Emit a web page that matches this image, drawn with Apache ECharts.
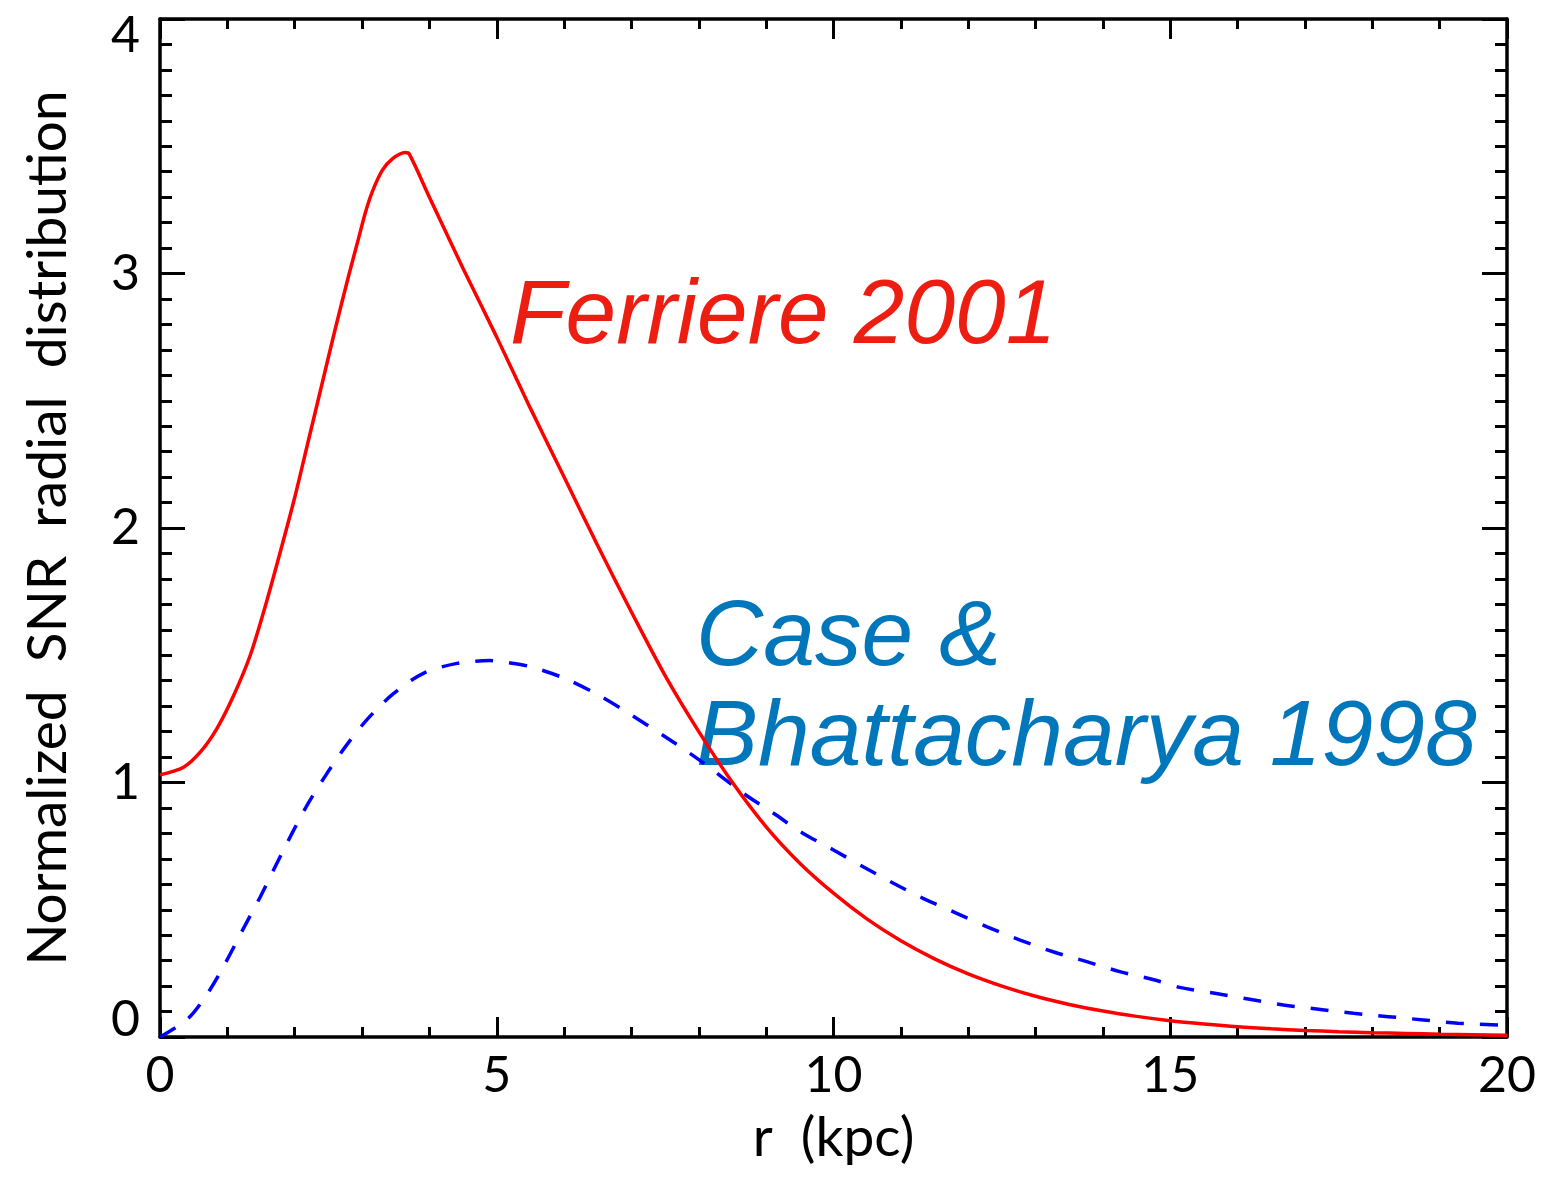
<!DOCTYPE html>
<html>
<head>
<meta charset="utf-8">
<script src="https://cdn.jsdelivr.net/npm/echarts@6/dist/echarts.min.js"></script>
<style>
  html, body { margin: 0; padding: 0; background: #fff; }
  #chart { width: 1543px; height: 1177px; }
</style>
</head>
<body>
<div id="chart"></div>
<script>
// Ferriere 2001 (solid red)
const ferriereR = [0, 0.35, 0.6, 0.84, 1.09, 1.34, 1.56, 1.8, 2.0, 2.2, 2.4, 2.6, 2.8, 2.95, 3.05, 3.15, 3.3, 3.45, 3.64, 3.7,
  4.0, 4.5, 5, 5.5, 6, 6.5, 7, 7.5, 8, 8.5, 9, 9.5, 10, 10.5, 11, 11.5, 12, 12.5, 13, 13.5, 14, 14.5, 15, 15.5, 16, 16.5,
  17, 17.5, 18, 18.5, 19, 19.5, 20]
const ferriereVal = [1.03, 1.06, 1.12, 1.21, 1.34, 1.5, 1.69, 1.92, 2.12, 2.34, 2.56, 2.78, 2.99, 3.14, 3.24, 3.32, 3.405, 3.45, 3.475, 3.47,
  3.30, 3.02, 2.75, 2.47, 2.20, 1.93, 1.67, 1.42, 1.20, 1.0, 0.826, 0.683, 0.565, 0.463, 0.378, 0.307, 0.248, 0.2, 0.16, 0.128, 0.102, 0.081, 0.064, 0.051, 0.04, 0.032,
  0.026, 0.021, 0.017, 0.014, 0.011, 0.009, 0.007]

// Case & Bhattacharya 1998 (dashed blue)
const caseR = [0, 0.42, 0.74, 0.99, 1.24, 1.49, 1.71, 1.96, 2.2, 2.48, 2.77, 3.09, 3.47, 3.91, 4.41, 4.9, 5.17, 5.5, 6, 6.5, 7, 7.5, 8,
  8.66, 9.11, 9.55, 10, 10.44, 10.89, 11.33, 11.83, 12.28, 12.77, 13.26, 13.76, 14.25, 14.77, 15.14, 15.66, 16.18, 16.68, 17.2, 17.72, 18.24, 18.76, 19.27, 20]
const caseVal = [0, 0.073, 0.185, 0.3, 0.427, 0.551, 0.669, 0.8, 0.918, 1.036, 1.147, 1.252, 1.35, 1.429, 1.468, 1.479, 1.471, 1.455, 1.41, 1.345, 1.265, 1.18, 1.09,
  0.958, 0.879, 0.8, 0.735, 0.669, 0.604, 0.545, 0.486, 0.433, 0.381, 0.335, 0.296, 0.257, 0.224, 0.195, 0.172, 0.148, 0.126, 0.109, 0.093, 0.08, 0.067, 0.054, 0.046]

const axisFont = 'Lato'

const chart = echarts.init(document.getElementById('chart'))

const frameAxis = {
	axisLine: { show: true, onZero: false, lineStyle: { color: '#000', width: 3.5 } },
	splitLine: { show: false },
}

const option = {
	backgroundColor: '#fff',
	animation: false,
	grid: { left: 160, right: 36, top: 19, bottom: 140, containLabel: false, outerBoundsMode: 'none' },
	xAxis: [
		{
			...frameAxis,
			type: 'value',
			position: 'bottom',
			min: 0,
			max: 20,
			interval: 5,
			axisTick: { show: true, inside: true, length: 20, lineStyle: { color: '#000', width: 3 } },
			minorTick: { show: true, splitNumber: 5, length: 10, lineStyle: { color: '#000', width: 3 } },
			axisLabel: { color: '#000', fontFamily: axisFont, fontSize: 50, margin: 14 },
			name: 'r  (kpc)',
			nameLocation: 'middle',
			nameGap: 74,
			nameTextStyle: { color: '#000', fontFamily: axisFont, fontSize: 55 },
		},
		{
			...frameAxis,
			type: 'value',
			position: 'top',
			min: 0,
			max: 20,
			interval: 5,
			axisTick: { show: true, inside: true, length: 20, lineStyle: { color: '#000', width: 3 } },
			minorTick: { show: true, splitNumber: 5, length: 10, lineStyle: { color: '#000', width: 3 } },
			axisLabel: { show: false },
		},
	],
	yAxis: [
		{
			...frameAxis,
			type: 'value',
			position: 'left',
			min: 0,
			max: 4,
			interval: 1,
			axisTick: { show: true, inside: true, length: 25, lineStyle: { color: '#000', width: 3 } },
			minorTick: { show: true, splitNumber: 10, length: 12, lineStyle: { color: '#000', width: 3 } },
			axisLabel: {
				color: '#000',
				fontFamily: axisFont,
				fontSize: 50,
				margin: 20,
				formatter: (v) => (v === 0 ? '{lo|0}' : v === 4 ? '{hi|4}' : String(v)),
				rich: {
					lo: { fontFamily: axisFont, fontSize: 50, color: '#000', padding: [0, 0, 34, 0] },
					hi: { fontFamily: axisFont, fontSize: 50, color: '#000', padding: [34, 0, 0, 0] },
				},
			},
			name: 'Normalized  SNR  radial  distribution',
			nameLocation: 'middle',
			nameRotate: 90,
			nameGap: 84,
			nameTextStyle: { color: '#000', fontFamily: axisFont, fontSize: 55 },
		},
		{
			...frameAxis,
			type: 'value',
			position: 'right',
			min: 0,
			max: 4,
			interval: 1,
			axisTick: { show: true, inside: true, length: 25, lineStyle: { color: '#000', width: 3 } },
			minorTick: { show: true, splitNumber: 10, length: 12, lineStyle: { color: '#000', width: 3 } },
			axisLabel: { show: false },
		},
	],
	series: [
		{
			name: 'Ferriere 2001',
			type: 'line',
			xAxisIndex: 0,
			yAxisIndex: 0,
			data: ferriereR.map((r, i) => [r, ferriereVal[i]]),
			showSymbol: false,
			smooth: 0.3,
			lineStyle: { color: '#ff0000', width: 3.5 },
			z: 3,
		},
		{
			name: 'Case & Bhattacharya 1998',
			type: 'line',
			xAxisIndex: 0,
			yAxisIndex: 0,
			data: caseR.map((r, i) => [r, caseVal[i]]),
			showSymbol: false,
			smooth: 0.3,
			lineStyle: { color: '#0000ff', width: 3.5, type: [18, 16] },
			z: 2,
		},
	],
	graphic: [
		{
			type: 'text',
			left: 510,
			top: 272,
			style: {
				text: 'Ferriere 2001',
				font: 'italic 91px "Liberation Sans", Arial, sans-serif',
				fill: '#ee1d12',
			},
		},
		{
			type: 'text',
			left: 696,
			top: 589,
			style: {
				text: 'Case &\nBhattacharya 1998',
				font: 'italic 93px "Liberation Sans", Arial, sans-serif',
				lineHeight: 100,
				fill: '#0077bb',
			},
		},
	],
}

chart.setOption(option)
</script>
</body>
</html>
